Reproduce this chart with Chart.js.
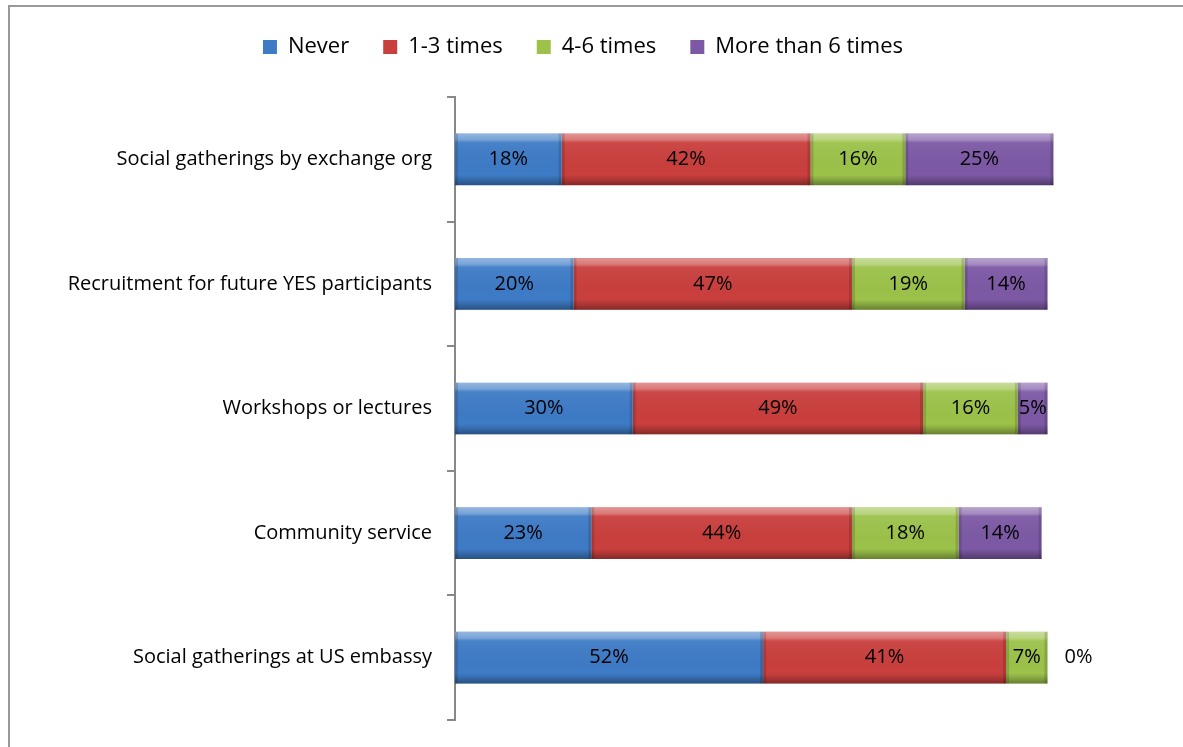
<!DOCTYPE html>
<html>
<head>
<meta charset="utf-8">
<script src="https://cdn.jsdelivr.net/npm/chart.js@4"></script>
<style>
  html, body { margin: 0; padding: 0; background: #fff; }
  #wrap { width: 1183px; height: 747px; }
</style>
</head>
<body>
<div id="wrap"><canvas id="activityChart" width="1183" height="747"></canvas></div>
<script>
const activities = [
  'Social gatherings by exchange org',
  'Recruitment for future YES participants',
  'Workshops or lectures',
  'Community service',
  'Social gatherings at US embassy'
];
const seriesNames = ['Never', '1-3 times', '4-6 times', 'More than 6 times'];
const never = [18, 20, 30, 23, 52];
const oneToThree = [42, 47, 49, 44, 41];
const fourToSix = [16, 19, 16, 18, 7];
const moreThanSix = [25, 14, 5, 14, 0];
const seriesColors = ['#3e7bc6', '#c93f3d', '#9cc24a', '#7d59a5'];

const FONT = '"Open Sans", "Liberation Sans", sans-serif';

// grey frame round the whole chart
const frame = {
  id: 'frame',
  beforeDraw(chart) {
    const ctx = chart.ctx;
    ctx.save();
    ctx.strokeStyle = '#999';
    ctx.lineWidth = 2;
    ctx.strokeRect(9, 6, chart.width + 20, chart.height + 20);
    ctx.restore();
  }
};

// extra room between the legend and the bars
const legendGap = {
  id: 'legendGap',
  beforeLayout(chart) {
    const lg = chart.legend;
    if (lg && !lg._gapPatched) {
      const fit = lg.fit;
      lg.fit = function () {
        fit.call(this);
        this.height += 29;
      };
      lg._gapPatched = true;
    }
  }
};

// light top edge, dark bottom edge and shaded ends on each bar
const bevel = {
  id: 'bevel',
  afterDatasetsDraw(chart) {
    const ctx = chart.ctx;
    chart.data.datasets.forEach((ds, i) => {
      chart.getDatasetMeta(i).data.forEach(bar => {
        const { x, y, base, height } = bar.getProps(['x', 'y', 'base', 'height'], true);
        const left = Math.min(x, base), w = Math.abs(x - base);
        if (w < 1) return;
        const top = y - height / 2;
        ctx.save();
        const g = ctx.createLinearGradient(0, top, 0, top + height);
        g.addColorStop(0, 'rgba(255,255,255,0.45)');
        g.addColorStop(0.12, 'rgba(255,255,255,0.3)');
        g.addColorStop(0.18, 'rgba(255,255,255,0.05)');
        g.addColorStop(0.8, 'rgba(0,0,0,0)');
        g.addColorStop(0.88, 'rgba(0,0,0,0.12)');
        g.addColorStop(1, 'rgba(0,0,0,0.35)');
        ctx.fillStyle = g;
        ctx.fillRect(left, top, w, height);
        ctx.fillStyle = 'rgba(0,0,0,0.14)';
        ctx.fillRect(left, top, 3, height);
        ctx.fillRect(left + w - 3, top, 3, height);
        ctx.restore();
      });
    });
  }
};

// percentage text in the middle of each segment (beside the bar when empty)
const valueLabels = {
  id: 'valueLabels',
  afterDatasetsDraw(chart) {
    const ctx = chart.ctx;
    ctx.save();
    ctx.font = '20px ' + FONT;
    ctx.fillStyle = '#000';
    ctx.textBaseline = 'middle';
    chart.data.datasets.forEach((ds, i) => {
      chart.getDatasetMeta(i).data.forEach((bar, j) => {
        const v = ds.data[j];
        const { x, y, base } = bar.getProps(['x', 'y', 'base'], true);
        if (v === 0) {
          ctx.textAlign = 'left';
          ctx.fillText(v + '%', x + 17, y);
        } else {
          ctx.textAlign = 'center';
          ctx.fillText(v + '%', (x + base) / 2, y);
        }
      });
    });
    ctx.restore();
  }
};

const seriesData = [never, oneToThree, fourToSix, moreThanSix];

new Chart(document.getElementById('activityChart'), {
  type: 'bar',
  data: {
    labels: activities,
    datasets: seriesNames.map((name, i) => ({
      label: name,
      data: seriesData[i],
      backgroundColor: seriesColors[i],
      borderWidth: 0,
      categoryPercentage: 0.415,
      barPercentage: 1
    }))
  },
  options: {
    indexAxis: 'y',
    responsive: false,
    animation: false,
    layout: { padding: { top: 2, right: 17, bottom: 18, left: 0 } },
    plugins: {
      legend: {
        position: 'top',
        labels: {
          font: { family: FONT, size: 22 },
          color: '#000',
          boxWidth: 14,
          boxHeight: 14,
          padding: 34
        }
      },
      tooltip: { enabled: false }
    },
    scales: {
      x: { stacked: true, min: 0, max: 120, display: false },
      y: {
        stacked: true,
        afterFit: scale => { scale.width = 455; },
        border: { display: true, color: '#888', width: 2 },
        grid: { drawOnChartArea: false, drawTicks: true, tickLength: 8, color: '#888', lineWidth: 2, offset: true },
        ticks: { font: { family: FONT, size: 20 }, color: '#000', padding: 15 }
      }
    }
  },
  plugins: [frame, legendGap, bevel, valueLabels]
});
</script>
</body>
</html>
